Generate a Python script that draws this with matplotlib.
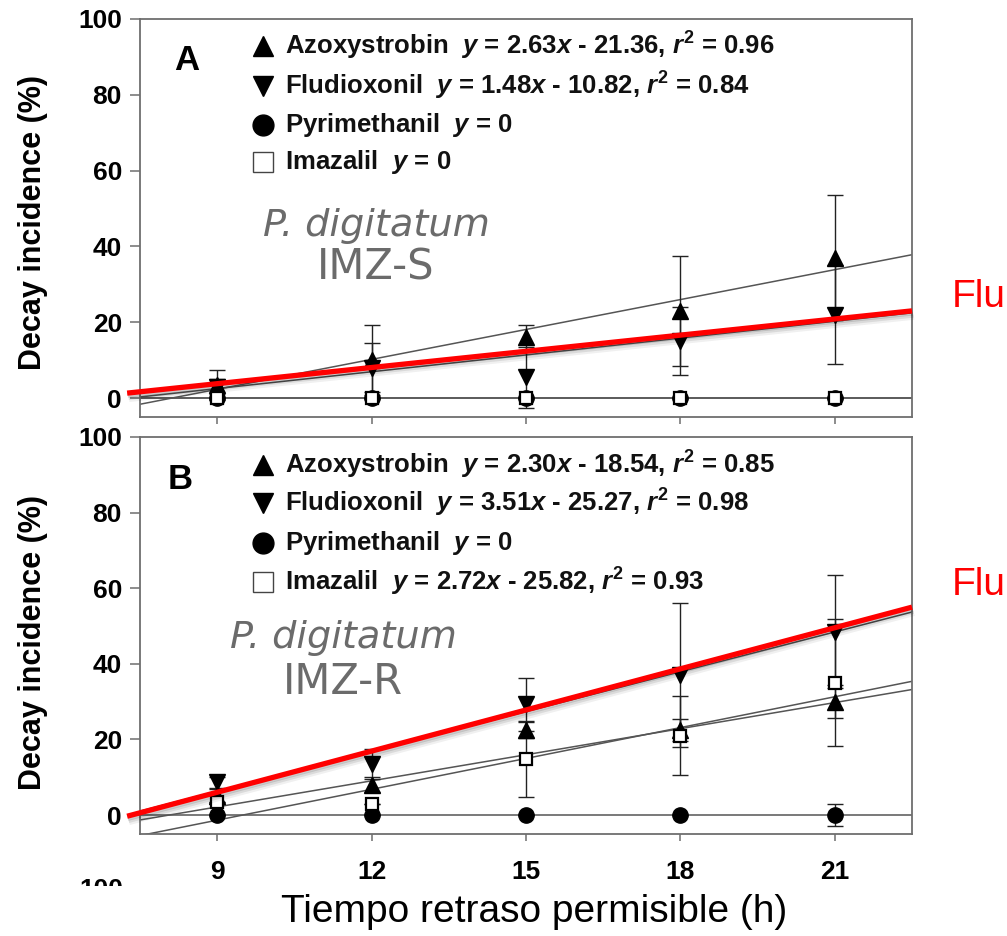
import matplotlib
matplotlib.use("Agg")
import matplotlib.pyplot as plt
import matplotlib.patheffects as pe
from matplotlib.lines import Line2D
from matplotlib.patches import Rectangle
import numpy as np

plt.rcParams['font.family'] = ['Liberation Sans', 'DejaVu Sans']
plt.rcParams['mathtext.fontset'] = 'custom'
plt.rcParams['mathtext.rm'] = 'Liberation Sans:bold'
plt.rcParams['mathtext.it'] = 'Liberation Sans:bold:italic'
plt.rcParams['mathtext.bf'] = 'Liberation Sans:bold'

# ---------------- data ----------------
hours = [9, 12, 15, 18, 21]
x_ticks = [9, 12, 15, 18, 21]
y_ticks = [0, 20, 40, 60, 80, 100]

# Panel A (IMZ-S)
A_azox = [3.5, 10.0, 16.0, 23.0, 37.0]
A_azox_err = [4.0, 9.3, 3.3, 14.5, 16.5]
A_flud = [3.0, 8.0, 5.5, 15.0, 22.0]
A_flud_err = [2.0, 6.5, 8.0, 9.0, 13.0]
A_pyri = [0, 0, 0, 0, 0]
A_pyri_err = [0, 0, 0, 0, 0]
A_imaz = [0, 0, 0, 0, 0]
A_imaz_err = [0, 0, 0, 0, 0]
A_fits = {"azox": (2.63, -21.36), "flud": (1.48, -10.82), "pyri": (0, 0), "imaz": (0, 0)}
A_labels = [r"Azoxystrobin  $y$ = 2.63$x$ - 21.36, $r^2$ = 0.96",
            r"Fludioxonil  $y$ = 1.48$x$ - 10.82, $r^2$ = 0.84",
            r"Pyrimethanil  $y$ = 0",
            r"Imazalil  $y$ = 0"]

# Panel B (IMZ-R)
B_azox = [5.0, 8.0, 22.5, 22.5, 30.0]
B_azox_err = [2.0, 2.0, 2.0, 3.0, 4.4]
B_flud = [8.7, 13.5, 29.3, 37.0, 48.5]
B_flud_err = [1.5, 4.0, 7.0, 19.0, 15.0]
B_pyri = [0, 0, 0, 0, 0]
B_pyri_err = [0, 0, 0, 0, 3.0]
B_imaz = [3.4, 3.0, 14.8, 21.0, 35.0]
B_imaz_err = [0, 0, 10.0, 10.5, 16.8]
B_fits = {"azox": (2.30, -18.54), "flud": (3.51, -25.27), "pyri": (0, 0), "imaz": (2.72, -25.82)}
B_labels = [r"Azoxystrobin  $y$ = 2.30$x$ - 18.54, $r^2$ = 0.85",
            r"Fludioxonil  $y$ = 3.51$x$ - 25.27, $r^2$ = 0.98",
            r"Pyrimethanil  $y$ = 0",
            r"Imazalil  $y$ = 2.72$x$ - 25.82, $r^2$ = 0.93"]

# red highlight overlays (Fludioxonil)
red_x = [7.25, 22.5]
red_A_y = [1.3, 23.0]
red_B_y = [-0.3, 55.0]

# --------------- figure ---------------
W, H = 1007, 936
fig = plt.figure(figsize=(W / 100, H / 100), dpi=100)


def fx(x):
    return x / W


def fy(y):
    return 1 - y / H


axA = fig.add_axes([fx(140), fy(417), fx(912) - fx(140), fy(19) - fy(417)])
axB = fig.add_axes([fx(140), fy(834), fx(912) - fx(140), fy(437) - fy(834)])

XL = (7.5, 22.5)
YL = (-5, 100)
line_col = '#555555'
spine_col = '#6e6e6e'

styles = {
    "azox": dict(marker='^', ms=11, mfc='black', mec='black'),
    "flud": dict(marker='v', ms=11, mfc='black', mec='black'),
    "pyri": dict(marker='o', ms=11, mfc='black', mec='black'),
    "imaz": dict(marker='s', ms=9, mfc='white', mec='black', mew=1.6),
}


def draw_panel(ax, series, fits, red_y, xticklabels):
    xx = np.array(XL)
    for key in ["pyri", "imaz", "azox", "flud"]:
        m, b = fits[key]
        ax.plot(xx, m * xx + b, color=line_col, lw=1.1, zorder=2)
    for key in ["pyri", "azox", "flud", "imaz"]:
        vals, errs = series[key]
        ax.errorbar(hours, vals, yerr=errs, fmt='none', ecolor='#222222',
                    elinewidth=1.0, capsize=5.5, capthick=1.0, zorder=3)
    for key in ["pyri", "azox", "flud", "imaz"]:
        vals, errs = series[key]
        ax.plot(hours, vals, ls='none', zorder=4, **styles[key])
    ax.plot(red_x, red_y, color='#ff0000', lw=3.8, solid_capstyle='butt',
            clip_on=False, zorder=6,
            path_effects=[pe.SimpleLineShadow(offset=(1.5, -4.5), alpha=0.06, shadow_color='black'),
                          pe.SimpleLineShadow(offset=(1.0, -3.0), alpha=0.09, shadow_color='black'),
                          pe.SimpleLineShadow(offset=(0.5, -1.5), alpha=0.12, shadow_color='black'),
                          pe.Normal()])
    ax.set_xlim(*XL)
    ax.set_ylim(*YL)
    ax.set_xticks(x_ticks)
    ax.set_yticks(y_ticks)
    ax.set_yticklabels([str(t) for t in y_ticks], fontsize=19, fontweight='bold')
    if xticklabels:
        ax.set_xticklabels([str(t) for t in x_ticks], fontsize=19, fontweight='bold')
    else:
        ax.set_xticklabels([])
    ax.tick_params(axis='y', direction='out', length=7, width=1.1, color=spine_col, pad=6)
    ax.tick_params(axis='x', direction='out', length=5, width=1.1, color=spine_col, pad=14)
    for s in ax.spines.values():
        s.set_color(spine_col)
        s.set_linewidth(1.3)


draw_panel(axA, {"azox": (A_azox, A_azox_err), "flud": (A_flud, A_flud_err),
                 "pyri": (A_pyri, A_pyri_err), "imaz": (A_imaz, A_imaz_err)},
           A_fits, red_A_y, False)
draw_panel(axB, {"azox": (B_azox, B_azox_err), "flud": (B_flud, B_flud_err),
                 "pyri": (B_pyri, B_pyri_err), "imaz": (B_imaz, B_imaz_err)},
           B_fits, red_B_y, True)

# legends
leg_markers = [dict(marker='^', ms=15, mfc='black', mec='black'),
               dict(marker='v', ms=15, mfc='black', mec='black'),
               dict(marker='o', ms=15, mfc='black', mec='black'),
               dict(marker='s', ms=15, mfc='white', mec='#444444', mew=1.0)]


def legend(rows_y, labels):
    for yy, lab, mk in zip(rows_y, labels, leg_markers):
        fig.add_artist(Line2D([fx(263)], [fy(yy)], transform=fig.transFigure, ls='none', **mk))
        fig.text(fx(285), fy(yy), lab, fontsize=18.5, fontweight='bold', va='center', ha='left',
                 color='#111111')


legend([46, 86, 125, 162], A_labels)
legend([465, 503, 543, 582], B_labels)

# panel letters
fig.text(fx(187), fy(60), 'A', fontsize=25, fontweight='bold', ha='center', va='center')
fig.text(fx(180), fy(480), 'B', fontsize=25, fontweight='bold', ha='center', va='center')

# species annotations
gray = '#6b6b6b'
fig.text(fx(376), fy(226), 'P. digitatum', family='DejaVu Sans', style='italic', fontsize=27.5,
         color=gray, ha='center', va='center')
fig.text(fx(376), fy(268), 'IMZ-S', family='DejaVu Sans', fontsize=30, color=gray,
         ha='center', va='center')
fig.text(fx(343), fy(638), 'P. digitatum', family='DejaVu Sans', style='italic', fontsize=27.5,
         color=gray, ha='center', va='center')
fig.text(fx(343), fy(682), 'IMZ-R', family='DejaVu Sans', fontsize=30, color=gray,
         ha='center', va='center')

# y labels
fig.text(fx(33), fy(222), 'Decay incidence (%)', rotation=90, fontsize=22, fontweight='bold',
         ha='center', va='center')
fig.text(fx(33), fy(642), 'Decay incidence (%)', rotation=90, fontsize=22, fontweight='bold',
         ha='center', va='center')

# x label
fig.text(fx(534), fy(912), 'Tiempo retraso permisible (h)', fontsize=28, ha='center', va='center')

# red "Flu" labels
fig.text(fx(952), fy(297), 'Flu', fontsize=28, color='#ff0000', ha='left', va='center')
fig.text(fx(952), fy(585), 'Flu', fontsize=28, color='#ff0000', ha='left', va='center')

# cut-off tick label of a hidden third panel
fig.text(fx(101), fy(878), '100', fontsize=19, fontweight='bold', ha='center', va='top', zorder=3)
fig.add_artist(Rectangle((fx(60), fy(936)), fx(90), fy(886) - fy(936), transform=fig.transFigure,
                         facecolor='white', edgecolor='none', zorder=10))

fig.savefig('out.png', dpi=100)
